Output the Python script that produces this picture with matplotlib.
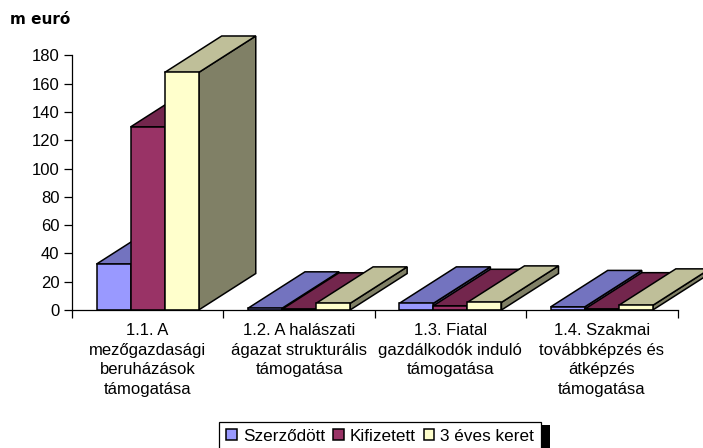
import numpy as np
import matplotlib
matplotlib.use('Agg')
import matplotlib.pyplot as plt
from matplotlib.patches import Patch, Rectangle

plt.rcParams['font.family'] = ['Liberation Sans', 'DejaVu Sans']

categories = ['1.1. A\nmezőgazdasági\nberuházások\ntámogatása',
              '1.2. A halászati\nágazat strukturális\ntámogatása',
              '1.3. Fiatal\ngazdálkodók induló\ntámogatása',
              '1.4. Szakmai\ntovábbképzés és\nátképzés\ntámogatása']
series_names = ['Szerződött', 'Kifizetett', '3 éves keret']
szerzodott = [32.5, 1.2, 4.7, 2.2]
kifizetett = [129.5, 0.5, 3.0, 0.6]
keret = [168.0, 4.7, 5.4, 3.3]
yticks = [0, 20, 40, 60, 80, 100, 120, 140, 160, 180]

front = ['#9999FF', '#993366', '#FFFFCC']
top = ['#7373BF', '#73264D', '#BFBF99']
side = ['#4D4D80', '#4D1A33', '#808066']

W, H = 703, 448
fig = plt.figure(figsize=(W/100, H/100), dpi=100)
ax = fig.add_axes([72/W, 1-310/H, (677.5-72)/W, (310-55.5)/H])
ax.set_xlim(0, 4)
ax.set_ylim(0, 180)

bar_w = 0.225
gap = 0.162      # empty space left of the first bar
dx = 0.377       # 3d depth, in x units
dy = 25.8        # 3d depth, in y units

values = [szerzodott, kifizetett, keret]
for g in range(len(categories)):
    for s in range(3):
        v = values[s][g]
        x0 = g + gap + s*bar_w
        x1 = x0 + bar_w
        z = 3 + g*3 + s*0.1
        # side, top then the front face over them
        ax.fill([x1, x1+dx, x1+dx, x1], [0, dy, v+dy, v], fc=side[s], ec='k', lw=1.1,
                clip_on=False, zorder=z)
        ax.fill([x0, x0+dx, x1+dx, x1], [v, v+dy, v+dy, v], fc=top[s], ec='k', lw=1.1,
                clip_on=False, zorder=z)
        ax.bar(x0, v, bar_w, align='edge', color=front[s], edgecolor='k', lw=1.1,
               clip_on=False, zorder=z)

for sp in ['top', 'right']:
    ax.spines[sp].set_visible(False)
ax.spines['left'].set_linewidth(0.9)
ax.spines['bottom'].set_linewidth(0.9)
ax.spines['bottom'].set_zorder(30)

ax.set_yticks(yticks)
ax.tick_params(axis='y', length=6, width=0.9, labelsize=12, pad=3)
ax.set_xticks(range(5))
ax.set_xticklabels([])
ax.tick_params(axis='x', length=6, width=0.9, direction='out')
ax.set_xticks(np.arange(4) + 0.5, minor=True)
ax.set_xticklabels(categories, minor=True, fontsize=12, linespacing=1.38)
ax.tick_params(axis='x', which='minor', length=0, pad=9.5)

fig.text(10/W, 1-20/H, 'm euró', fontsize=11, fontweight='bold', va='center', ha='left',
         family='DejaVu Sans')

# legend with the black shadow on its right side
fig.add_artist(Rectangle((540/W, 0), 10/W, (H-425)/H, transform=fig.transFigure,
                         fc='k', ec='none', zorder=1))
handles = [Patch(fc=front[i], ec='k', lw=1.1) for i in range(3)]
leg = fig.legend(handles, series_names, loc='lower left',
                 bbox_to_anchor=(219/W, -3/H), ncol=3, fontsize=12.3, frameon=True,
                 fancybox=False, framealpha=1, edgecolor='k', borderpad=0.42,
                 handlelength=0.62, handleheight=0.62, handletextpad=0.35,
                 columnspacing=0.48, borderaxespad=0)
leg.set_zorder(2)
leg.get_frame().set_linewidth(0.9)

fig.savefig('out.png', dpi=100)
